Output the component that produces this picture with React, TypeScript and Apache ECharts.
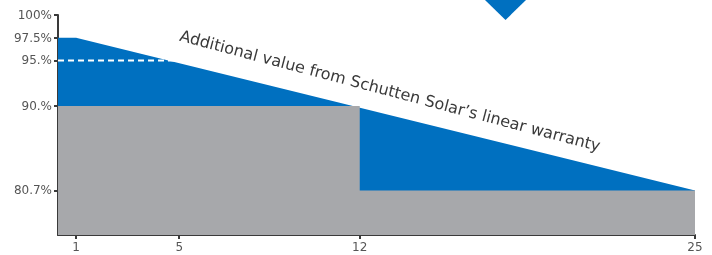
import React, { useEffect, useRef } from "react";
import * as echarts from "echarts";

// ---- data ----
const xTicks = [1, 5, 12, 25];
const yTicks = [100, 97.5, 95, 90, 80.7];
const yTickLabels = ["100%", "97.5%", "95.%", "90.%", "80.7%"];

const X_MIN = 0.3;
const X_MAX = 25;
const Y_MIN = 75.8;
const Y_MAX = 100;

// linear warranty (blue)
const warrantyYears = [X_MIN, 1, 25];
const warrantyValues = [97.5, 97.5, 80.7];

// standard step warranty (grey)
const stepYears = [X_MIN, 12, 12, 25];
const stepValues = [90, 90, 80.7, 80.7];

// dashed reference
const dashYears = [X_MIN, 5];
const dashValues = [95, 95];

const annotation = "Additional value from Schutten Solar\u2019s linear warranty";

const BLUE = "#0070c0";
const GREY = "#a7a8ab";
const AXIS = "#3a3a3a";
const LABEL = "#555555";
const FONT = "DejaVu Sans";

const zip = (xs: number[], ys: number[]) => xs.map((x, i) => [x, ys[i]]);

export default function App() {
  const ref = useRef<HTMLDivElement>(null);
  useEffect(() => {
    if (!ref.current) return;
    const chart = echarts.init(ref.current, undefined, { renderer: "svg" });
    chart.setOption({
      animation: false,
      grid: { left: 58, right: 17, top: 15, bottom: 20, containLabel: false },
      xAxis: {
        type: "value",
        min: X_MIN,
        max: X_MAX,
        splitLine: { show: false },
        axisLine: { show: true, lineStyle: { color: AXIS, width: 2 } },
        axisTick: { show: true, customValues: xTicks, length: 4, lineStyle: { color: AXIS, width: 2 } },
        axisLabel: {
          customValues: xTicks,
          color: LABEL,
          fontSize: 12,
          fontFamily: FONT,
          margin: 6,
          showMinLabel: true,
          showMaxLabel: true,
        },
      },
      yAxis: {
        type: "value",
        min: Y_MIN,
        max: Y_MAX,
        splitLine: { show: false },
        axisLine: { show: true, lineStyle: { color: AXIS, width: 2 } },
        axisTick: { show: true, customValues: yTicks, length: 4, lineStyle: { color: AXIS, width: 2 } },
        axisLabel: {
          customValues: yTicks,
          color: LABEL,
          fontSize: 12,
          fontFamily: FONT,
          margin: 6,
          formatter: (v: number) => {
            const i = yTicks.findIndex((t) => Math.abs(t - v) < 1e-6);
            return i >= 0 ? yTickLabels[i] : "";
          },
        },
      },
      series: [
        {
          type: "line",
          data: zip(warrantyYears, warrantyValues),
          symbol: "none",
          lineStyle: { width: 0 },
          areaStyle: { color: BLUE, opacity: 1, origin: "start" },
          z: 1,
        },
        {
          type: "line",
          data: zip(stepYears, stepValues),
          symbol: "none",
          lineStyle: { width: 0 },
          areaStyle: { color: GREY, opacity: 1, origin: "start" },
          z: 2,
        },
        {
          type: "line",
          data: zip(dashYears, dashValues),
          symbol: "none",
          lineStyle: { color: "#ffffff", width: 2, type: [6, 4] },
          z: 3,
        },
      ],
      graphic: [
        {
          type: "polygon",
          shape: { points: [[485, 0], [526, 0], [505.5, 20]] },
          style: { fill: BLUE },
        },
        {
          type: "text",
          x: 178,
          y: 43,
          rotation: -0.258,
          style: {
            text: annotation,
            fill: "#3a3a3a",
            fontFamily: FONT,
            fontSize: 16,
            fontWeight: "normal",
            fontStyle: "normal",
            textAlign: "left",
            textVerticalAlign: "bottom",
          },
        },
      ],
    });
    return () => chart.dispose();
  }, []);
  return (
    <div
      ref={ref}
      style={{ position: "fixed", left: 0, top: 0, width: 712, height: 255 }}
    />
  );
}
